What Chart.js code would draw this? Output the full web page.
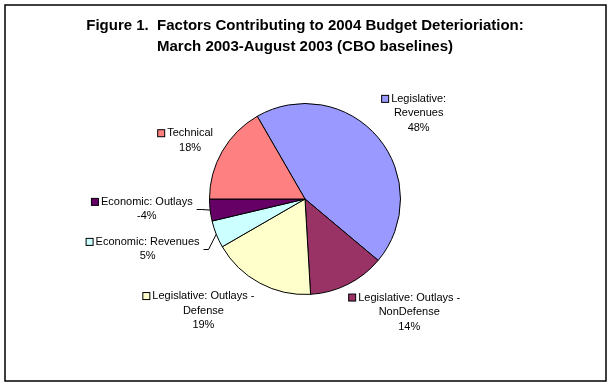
<!DOCTYPE html>
<html>
<head>
<meta charset="utf-8">
<script src="https://cdn.jsdelivr.net/npm/chart.js@4/dist/chart.umd.min.js"></script>
<style>
  html, body { margin: 0; padding: 0; background: #fff; }
  canvas { display: block; }
</style>
</head>
<body>
<canvas id="budgetPie" width="612" height="386"></canvas>
<script>
// data (percent of total change)
var categories = ['Legislative: Revenues', 'Legislative: Outlays - NonDefense', 'Legislative: Outlays - Defense',
                  'Economic: Revenues', 'Economic: Outlays', 'Technical'];
var labelLines = [['Legislative:', 'Revenues'], ['Legislative: Outlays -', 'NonDefense'], ['Legislative: Outlays -', 'Defense'],
                  ['Economic: Revenues'], ['Economic: Outlays'], ['Technical']];
var shares = [48, 14, 19, 5, -4, 18];
var sliceColors = ['#9999FF', '#993366', '#FFFFCC', '#CCFFFF', '#660066', '#FF8080'];

// where each label sits: distance (x outer radius) and angle nudge (deg) from the slice middle
var labelPlace = [
  { k: 1.49, da: 3 },
  { k: 1.61, da: -16 },
  { k: 1.58, da: 14 },
  { k: 1.73, da: 4, leader: true },
  { k: 1.66, da: 3, leader: true },
  { k: 1.35, da: -3 }
];

var frame = {
  id: 'frame',
  beforeDraw: function(chart) {
    var c = chart.ctx;
    c.save();
    c.strokeStyle = '#000';
    c.lineWidth = 1.5;
    c.strokeRect(5, 5, 601, 376);
    c.restore();
  }
};

var sliceLabels = {
  id: 'sliceLabels',
  afterDatasetsDraw: function(chart) {
    var c = chart.ctx;
    var arcs = chart.getDatasetMeta(0).data;
    var lineH = 14.5;
    c.save();
    c.font = '11px "Liberation Sans", Arial, sans-serif';
    c.textBaseline = 'middle';
    c.textAlign = 'center';
    arcs.forEach(function(arc, i) {
      var p = arc.getProps(['x', 'y', 'startAngle', 'endAngle', 'outerRadius'], true);
      var mid = (p.startAngle + p.endAngle) / 2;
      var pl = labelPlace[i];
      var a = mid + pl.da * Math.PI / 180;
      var cx = p.x + Math.cos(a) * p.outerRadius * pl.k;
      var cy = p.y + Math.sin(a) * p.outerRadius * pl.k;
      var lines = labelLines[i].concat([shares[i] + '%']);
      var top = cy - (lines.length - 1) * lineH / 2;
      var maxW = 0;
      c.fillStyle = '#000';
      lines.forEach(function(t, j) {
        c.fillText(t, cx, top + j * lineH);
        maxW = Math.max(maxW, c.measureText(t).width);
      });
      // legend key in front of the first line
      var w0 = c.measureText(lines[0]).width;
      var kx = cx - w0 / 2 - 10;
      c.fillStyle = sliceColors[i];
      c.fillRect(kx + 0.5, top - 3.5, 7, 7);
      c.strokeStyle = '#000';
      c.lineWidth = 1;
      c.strokeRect(kx + 0.5, top - 3.5, 7, 7);
      if (pl.leader) {
        var ex = p.x + Math.cos(mid) * p.outerRadius;
        var ey = p.y + Math.sin(mid) * p.outerRadius;
        var sx = cx + maxW / 2 + 4;
        c.beginPath();
        c.moveTo(sx, Math.round(cy) + 0.5);
        c.lineTo(sx + 5, Math.round(cy) + 0.5);
        c.lineTo(ex, ey);
        c.stroke();
      }
    });
    c.restore();
  }
};

new Chart(document.getElementById('budgetPie'), {
  type: 'pie',
  data: {
    labels: categories,
    datasets: [{
      data: shares.map(function(v) { return Math.abs(v); }),
      backgroundColor: sliceColors,
      borderColor: '#000',
      borderWidth: 1
    }]
  },
  options: {
    responsive: false,
    animation: false,
    rotation: -30,
    layout: { padding: { top: 8, left: 6, right: 8, bottom: 91 } },
    plugins: {
      legend: { display: false },
      tooltip: { enabled: false },
      title: {
        display: true,
        text: ['Figure 1.  Factors Contributing to 2004 Budget Deterioriation:', 'March 2003-August 2003 (CBO baselines)'],
        color: '#000',
        font: { family: '"Liberation Sans", Arial, sans-serif', size: 15, weight: 'bold', lineHeight: 1.4 },
        padding: { top: 7, bottom: 46 }
      }
    }
  },
  plugins: [frame, sliceLabels]
});
</script>
</body>
</html>
